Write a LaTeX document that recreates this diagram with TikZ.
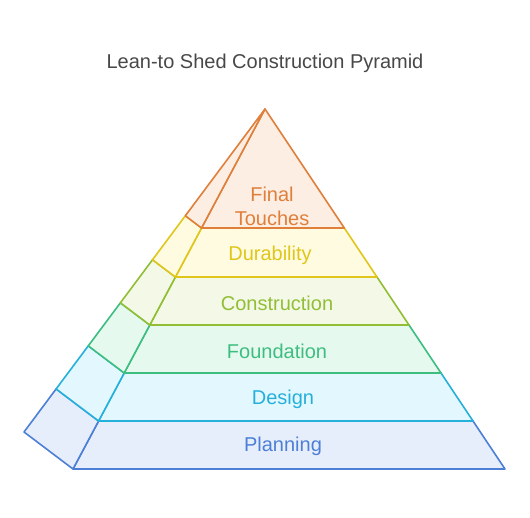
\documentclass[tikz,border=0pt]{standalone}
\usepackage{fontspec}
\setmainfont{Liberation Sans}
\usetikzlibrary{calc}

\definecolor{planline}{HTML}{4D7FD6}   \definecolor{planfill}{HTML}{E6EEFC}
\definecolor{designline}{HTML}{25B0DC} \definecolor{designfill}{HTML}{E3F8FE}
\definecolor{foundline}{HTML}{3DBE80}  \definecolor{foundfill}{HTML}{E6F9EF}
\definecolor{buildline}{HTML}{92BE36}  \definecolor{buildfill}{HTML}{F3F9E6}
\definecolor{duraline}{HTML}{E0C61A}   \definecolor{durafill}{HTML}{FEFBE1}
\definecolor{finalline}{HTML}{DF7F3A}  \definecolor{finalfill}{HTML}{FDEEE4}
\definecolor{titlegray}{HTML}{484848}

\tikzset{
	level/.style={line width=1.6pt, line join=round},
	lbl/.style={font=\fontsize{20}{24}\selectfont, align=center, inner sep=0pt}
}

\begin{document}
\begin{tikzpicture}[x=1pt,y=-1pt]

		\useasboundingbox (0,0) rectangle (530,518);

		\coordinate (apex) at (265,109);
		\coordinate (fl) at (73,469);
		\coordinate (fr) at (505,469);
		\coordinate (bl) at (24,432);

		% bottom to top, each band: front face and left face
		\foreach \tb/\tt/\c in {1/0.8667/plan,0.8667/0.7333/design,0.7333/0.6/found,0.6/0.4667/build,0.4667/0.3306/dura,0.3306/0/final}
		{
		\filldraw[level, draw=\c line, fill=\c fill] ($(apex)!\tb!(fl)$) -- ($(apex)!\tb!(fr)$) -- ($(apex)!\tt!(fr)$) -- ($(apex)!\tt!(fl)$) -- cycle;
		\filldraw[level, draw=\c line, fill=\c fill] ($(apex)!\tb!(fl)$) -- ($(apex)!\tb!(bl)$) -- ($(apex)!\tt!(bl)$) -- ($(apex)!\tt!(fl)$) -- cycle;
		}

		\foreach \x/\y/\c/\name/\xtext in {283/446/plan/planning/Planning,283/399/design/design/Design,277/351/found/foundation/Foundation,277/303/build/construction/Construction,270/255/dura/durability/Durability,272/206/final/touches/Final\\Touches}
		\node[lbl, text=\c line] (\name) at (\x,\y) {\xtext};

		\node[lbl, text=titlegray] (title) at (265,63) {Lean-to Shed Construction Pyramid};

		\end{tikzpicture}
\end{document}
